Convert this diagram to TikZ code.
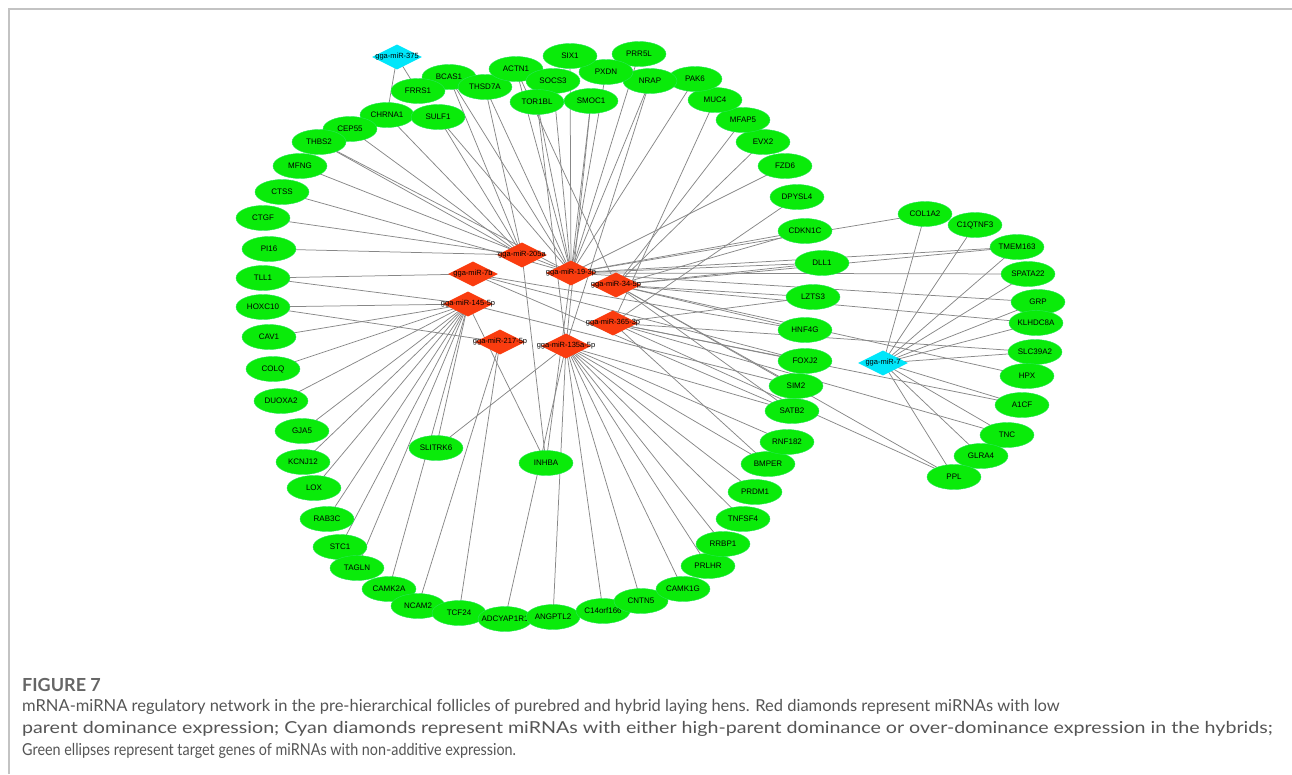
\documentclass[tikz,border=0pt]{standalone}
\usepackage{fontspec}
\setmainfont{Liberation Sans}
\newfontfamily\capfont{Lato}
\usetikzlibrary{shapes.geometric,backgrounds}
\definecolor{genegreen}{RGB}{10,235,10}
\definecolor{geneedge}{RGB}{40,230,90}
\definecolor{mirred}{RGB}{250,60,15}
\definecolor{mircyan}{RGB}{0,230,250}
\definecolor{edgegray}{RGB}{135,135,135}
\definecolor{framegray}{RGB}{195,195,195}
\definecolor{captext}{RGB}{85,85,85}
\newcommand{\genenode}[4]{\node[gene] (#1) at (#2,#3) {\makebox[0pt]{#4}};}
\newcommand{\rednode}[4]{\node[redmir] (#1) at (#2,#3) {\makebox[0pt]{#4}};}
\newcommand{\cyannode}[4]{\node[cyanmir] (#1) at (#2,#3) {\makebox[0pt]{#4}};}
\newcommand{\linksfrom}[2]{\foreach \tgt in {#2} {\draw[edge] (#1.center) -- (\tgt.center);}}
\begin{document}
\begin{tikzpicture}[x=1pt,y=-1pt,
 gene/.style={ellipse,fill=genegreen,draw=geneedge,line width=0.4pt,minimum width=54pt,minimum height=25pt,inner sep=0pt,font=\fontsize{8}{9}\selectfont},
 redmir/.style={diamond,fill=mirred,minimum width=50pt,minimum height=25pt,inner sep=0pt,font=\fontsize{7.5}{8}\selectfont},
 cyanmir/.style={redmir,fill=mircyan},
 edge/.style={draw=edgegray,line width=0.75pt},
 frameline/.style={draw=framegray,line width=1.2pt},
 captxt/.style={anchor=west,text=captext,inner sep=0pt,font=\capfont\fontsize{16.5}{19}\selectfont}]
\useasboundingbox (0,0) rectangle (1292,774);
\draw[frameline] (9,774) -- (9,9) -- (1292,9);

% genes
\genenode{BCAS1}{449}{77}{BCAS1}
\genenode{FRRS1}{418}{91}{FRRS1}
\genenode{THSD7A}{485}{87}{THSD7A}
\genenode{ACTN1}{516}{69}{ACTN1}
\genenode{CHRNA1}{387}{115}{CHRNA1}
\genenode{SULF1}{438}{117}{SULF1}
\genenode{CEP55}{350}{129}{CEP55}
\genenode{THBS2}{319}{142}{THBS2}
\genenode{MFNG}{300}{166}{MFNG}
\genenode{CTSS}{282}{192}{CTSS}
\genenode{CTGF}{263}{218}{CTGF}
\genenode{PI16}{269}{249}{PI16}
\genenode{TLL1}{263}{278}{TLL1}
\genenode{HOXC10}{263}{307}{HOXC10}
\genenode{CAV1}{269}{337}{CAV1}
\genenode{COLQ}{273}{369}{COLQ}
\genenode{DUOXA2}{281}{401}{DUOXA2}
\genenode{GJA5}{302}{431}{GJA5}
\genenode{KCNJ12}{303}{462}{KCNJ12}
\genenode{LOX}{314}{488}{LOX}
\genenode{RAB3C}{327}{519}{RAB3C}
\genenode{STC1}{340}{547}{STC1}
\genenode{TAGLN}{357}{568}{TAGLN}
\genenode{CAMK2A}{389}{589}{CAMK2A}
\genenode{NCAM2}{418}{606}{NCAM2}
\genenode{TCF24}{459}{613}{TCF24}
\genenode{ADCYAP1R1}{505}{619}{ADCYAP1R1}
\genenode{ANGPTL2}{553}{617}{ANGPTL2}
\genenode{C14orf166}{603}{611}{C14orf166}
\genenode{CNTN5}{641}{601}{CNTN5}
\genenode{CAMK1G}{683}{589}{CAMK1G}
\genenode{PRLHR}{708}{566}{PRLHR}
\genenode{RRBP1}{723}{544}{RRBP1}
\genenode{TNFSF4}{743}{519}{TNFSF4}
\genenode{PRDM1}{755}{492}{PRDM1}
\genenode{BMPER}{768}{464}{BMPER}
\genenode{RNF182}{787}{442}{RNF182}
\genenode{SATB2}{792}{411}{SATB2}
\genenode{SIM2}{796}{386}{SIM2}
\genenode{FOXJ2}{805}{361}{FOXJ2}
\genenode{HNF4G}{805}{330}{HNF4G}
\genenode{LZTS3}{813}{297}{LZTS3}
\genenode{DLL1}{822}{263}{DLL1}
\genenode{CDKN1C}{805}{231}{CDKN1C}
\genenode{DPYSL4}{797}{197}{DPYSL4}
\genenode{FZD6}{785}{166}{FZD6}
\genenode{EVX2}{763}{142}{EVX2}
\genenode{MFAP5}{743}{120}{MFAP5}
\genenode{MUC4}{715}{100}{MUC4}
\genenode{PAK6}{695}{79}{PAK6}
\genenode{PRR5L}{639}{54}{PRR5L}
\genenode{NRAP}{650}{81}{NRAP}
\genenode{PXDN}{606}{72}{PXDN}
\genenode{SIX1}{570}{56}{SIX1}
\genenode{SOCS3}{553}{81}{SOCS3}
\genenode{TOR1BL}{537}{102}{TOR1BL}
\genenode{SMOC1}{591}{101}{SMOC1}
\genenode{INHBA}{546}{463}{INHBA}
\genenode{SLITRK6}{436}{448}{SLITRK6}
\genenode{COL1A2}{925}{214}{COL1A2}
\genenode{C1QTNF3}{975}{225}{C1QTNF3}
\genenode{TMEM163}{1017}{247}{TMEM163}
\genenode{SPATA22}{1028}{274}{SPATA22}
\genenode{GRP}{1038}{302}{GRP}
\genenode{KLHDC8A}{1036}{323}{KLHDC8A}
\genenode{SLC39A2}{1035}{352}{SLC39A2}
\genenode{HPX}{1027}{376}{HPX}
\genenode{A1CF}{1022}{405}{A1CF}
\genenode{TNC}{1007}{435}{TNC}
\genenode{GLRA4}{981}{456}{GLRA4}
\genenode{PPL}{954}{477}{PPL}

% miRNAs
\cyannode{m375}{397}{57}{gga-miR-375}
\cyannode{m7}{883}{363}{gga-miR-7}
\rednode{m205}{522}{255}{gga-miR-205a}
\rednode{m7b}{473}{274}{gga-miR-7b}
\rednode{m19}{571}{273}{gga-miR-19-3p}
\rednode{m34}{616}{285}{gga-miR-34-5p}
\rednode{m145}{468}{304}{gga-miR-145-5p}
\rednode{m365}{613}{323}{gga-miR-365-3p}
\rednode{m217}{500}{342}{gga-miR-217-5p}
\rednode{m135}{566}{346}{gga-miR-135a-5p}

\begin{pgfonlayer}{background}
\linksfrom{m375}{FRRS1,CHRNA1}
\linksfrom{m205}{BCAS1,THSD7A,SULF1,CHRNA1,THBS2,PI16,CTGF,INHBA,CEP55}
\linksfrom{m19}{BCAS1,ACTN1,SOCS3,TOR1BL,SIX1,SMOC1,PXDN,NRAP,PRR5L,PAK6,FZD6,CDKN1C,DLL1,COL1A2,TMEM163,SPATA22,GRP,SULF1,THBS2,MFNG,CTSS,INHBA,THSD7A}
\linksfrom{m7b}{TLL1,HNF4G,FOXJ2,SATB2}
\linksfrom{m34}{ACTN1,MFAP5,EVX2,CDKN1C,DLL1,LZTS3,HNF4G,TMEM163,KLHDC8A,HPX,SATB2,SIM2,PPL}
\linksfrom{m145}{TLL1,HOXC10,CAV1,COLQ,DUOXA2,GJA5,KCNJ12,LOX,RAB3C,STC1,TAGLN,CAMK2A,SLITRK6,SIM2,INHBA}
\linksfrom{m365}{MUC4,DPYSL4,LZTS3,FOXJ2,BMPER,SLC39A2,A1CF,TNC,PPL}
\linksfrom{m217}{HOXC10,NCAM2,TCF24}
\linksfrom{m135}{TOR1BL,SMOC1,NRAP,RNF182,BMPER,PRDM1,TNFSF4,RRBP1,PRLHR,CAMK1G,CNTN5,C14orf166,ANGPTL2,ADCYAP1R1,SLITRK6,SATB2}
\linksfrom{m7}{COL1A2,C1QTNF3,TMEM163,SPATA22,GRP,KLHDC8A,SLC39A2,A1CF,TNC,GLRA4,PPL}
\end{pgfonlayer}

% caption
\node[captxt,font=\capfont\bfseries\fontsize{18}{20}\selectfont,text=captext!90] (figlabel) at (22,685) {FIGURE 7};
\node[captxt] (cap1) at (22,707) {mRNA-miRNA regulatory network in the pre-hierarchical follicles of purebred and hybrid laying hens. Red diamonds represent miRNAs with low};
\node[captxt] (cap2) at (22,729) {\scalebox{1.19}[1]{parent dominance expression; Cyan diamonds represent miRNAs with either high-parent dominance or over-dominance expression in the hybrids;}};
\node[captxt] (cap3) at (22,751) {\scalebox{0.87}[1]{Green ellipses represent target genes of miRNAs with non-additive expression.}};
\end{tikzpicture}
\end{document}
